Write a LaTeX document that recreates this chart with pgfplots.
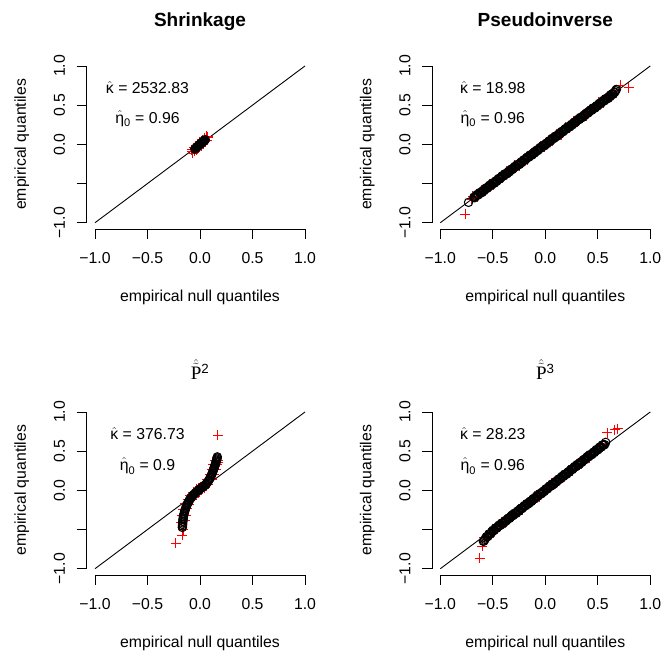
\documentclass[border=0pt]{standalone}
\usepackage{amsmath}
\usepackage{fontspec}
\setmainfont{Liberation Sans}
\newfontfamily\serifP{Liberation Serif}
\usepackage{pgfplots}
\pgfplotsset{compat=1.18}
\newcommand{\fs}{\fontsize{15.8}{18}\selectfont}
\tikzset{
 xt/.style={anchor=base, font=\fs, inner sep=0pt, yshift=-34.3pt},
 yt/.style={font=\fs, inner sep=0pt, xshift=-21.6pt, rotate=90, anchor=base},
}
\pgfplotsset{
 rpanel/.style={scale only axis, width=226.8pt, height=169.3pt, anchor=south west,
  xmin=-1.08,xmax=1.08,ymin=-1.08,ymax=1.08,
  axis x line*=bottom, axis y line*=left, axis line style={draw=none,-},
  xtick={-1,-0.5,0,0.5,1}, ytick={-1,-0.5,0,0.5,1},
  xticklabels={,,,,}, yticklabels={,,,,},
  tick align=outside, major tick length=10pt, tick style={black,line width=0.8pt},
  clip=false},
 circ/.style={color=black, only marks, mark=o, mark size=4.2pt, mark options={solid, line width=1.05pt, black}},
 rplus/.style={color=red, only marks, mark=+, mark size=5pt, mark options={solid, line width=1pt, red}},
 diag/.style={black, line width=0.9pt, no marks},
}
\newcommand{\raxes}{%
 \draw[line width=0.8pt] (axis cs:-1,-1.08) -- (axis cs:1,-1.08);
 \draw[line width=0.8pt] (axis cs:-1.08,-1) -- (axis cs:-1.08,1);
 \node[xt] at (axis cs:-1,-1.08) {−1.0};
 \node[xt] at (axis cs:-0.5,-1.08) {−0.5};
 \node[xt] at (axis cs:0,-1.08) {0.0};
 \node[xt] at (axis cs:0.5,-1.08) {0.5};
 \node[xt] at (axis cs:1,-1.08) {1.0};
 \node[yt] at (axis cs:-1.08,-1) {−1.0};
 \node[yt] at (axis cs:-1.08,0) {0.0};
 \node[yt] at (axis cs:-1.08,0.5) {0.5};
 \node[yt] at (axis cs:-1.08,1) {1.0};}
\begin{document}
\begin{tikzpicture}
\path[use as bounding box] (0,0) rectangle (665pt,655pt);

% ---------- Panel 1: Shrinkage ----------
\begin{axis}[rpanel, at={(86.6pt,426pt)}]
\raxes
\addplot[diag] coordinates {(-1,-1) (1,1)};
\addplot[rplus] coordinates {(-0.080,-0.066) (-0.070,-0.114) (-0.060,-0.042) (-0.050,-0.090) (-0.040,-0.018) (-0.030,-0.066) (-0.020,0.006) (-0.010,-0.042) (0.000,0.030) (0.010,-0.018) (0.020,0.054) (0.030,0.006) (0.040,0.078) (0.050,0.030) (0.060,0.102) (0.070,0.054) (0.075,0.100) (-0.075,-0.095) (0.072,0.085)};
\addplot[circ] coordinates {(-0.050,-0.060) (-0.045,-0.054) (-0.040,-0.049) (-0.035,-0.042) (-0.030,-0.036) (-0.025,-0.030) (-0.020,-0.024) (-0.015,-0.018) (-0.010,-0.012) (-0.005,-0.006) (0.000,0.000) (0.005,0.006) (0.010,0.012) (0.015,0.018) (0.020,0.024) (0.025,0.030) (0.030,0.036) (0.035,0.042) (0.040,0.049) (0.045,0.054) (0.050,0.060)};
\node[anchor=base, font=\fs] at (axis cs:-0.5,0.652) {$\hat{\text{κ}}$ = 2532.83};
\node[anchor=base, font=\fs] at (axis cs:-0.5,0.27) {$\hat{\text{η}}_{\text{0}}$ = 0.96};
\end{axis}

% ---------- Panel 2: Pseudoinverse ----------
\begin{axis}[rpanel, at={(431.9pt,426pt)}]
\raxes
\addplot[diag] coordinates {(-1,-1) (1,1)};
\addplot[rplus] coordinates {(-0.690,-0.665) (-0.650,-0.675) (-0.610,-0.585) (-0.570,-0.595) (-0.530,-0.505) (-0.490,-0.515) (-0.450,-0.425) (-0.410,-0.435) (-0.370,-0.345) (-0.330,-0.355) (-0.290,-0.265) (-0.250,-0.275) (-0.210,-0.185) (-0.170,-0.195) (-0.130,-0.105) (-0.090,-0.115) (-0.050,-0.025) (-0.010,-0.035) (0.030,0.055) (0.070,0.045) (0.110,0.135) (0.150,0.125) (0.190,0.215) (0.230,0.205) (0.270,0.295) (0.310,0.285) (0.350,0.375) (0.390,0.365) (0.430,0.455) (0.470,0.445) (0.510,0.535) (0.550,0.525) (0.590,0.615) (0.630,0.605) (0.660,0.690) (-0.763,-0.893) (-0.700,-0.700) (0.715,0.754) (0.794,0.725)};
\addplot[circ] coordinates {(-0.731,-0.740)
(-0.680,-0.674) (-0.665,-0.669) (-0.650,-0.641) (-0.635,-0.642) (-0.620,-0.618) (-0.605,-0.615) (-0.590,-0.585) (-0.575,-0.577) (-0.560,-0.554) (-0.545,-0.549)
(-0.530,-0.521) (-0.515,-0.522) (-0.500,-0.498) (-0.485,-0.495) (-0.470,-0.465) (-0.455,-0.457) (-0.440,-0.434) (-0.425,-0.429) (-0.410,-0.401) (-0.395,-0.402)
(-0.380,-0.378) (-0.365,-0.375) (-0.350,-0.345) (-0.335,-0.337) (-0.320,-0.314) (-0.305,-0.309) (-0.290,-0.281) (-0.275,-0.282) (-0.260,-0.258) (-0.245,-0.255)
(-0.230,-0.225) (-0.215,-0.217) (-0.200,-0.194) (-0.185,-0.189) (-0.170,-0.161) (-0.155,-0.162) (-0.140,-0.138) (-0.125,-0.135) (-0.110,-0.105) (-0.095,-0.097)
(-0.080,-0.074) (-0.065,-0.069) (-0.050,-0.041) (-0.035,-0.042) (-0.020,-0.018) (-0.005,-0.015) (0.010,0.015) (0.025,0.023) (0.040,0.046) (0.055,0.051)
(0.070,0.079) (0.085,0.078) (0.100,0.102) (0.115,0.105) (0.130,0.135) (0.145,0.143) (0.160,0.166) (0.175,0.171) (0.190,0.199) (0.205,0.198)
(0.220,0.222) (0.235,0.225) (0.250,0.255) (0.265,0.263) (0.280,0.286) (0.295,0.291) (0.310,0.319) (0.325,0.318) (0.340,0.342) (0.355,0.345)
(0.370,0.375) (0.385,0.383) (0.400,0.406) (0.415,0.411) (0.430,0.439) (0.445,0.438) (0.460,0.462) (0.475,0.465) (0.490,0.495) (0.505,0.503)
(0.520,0.526) (0.535,0.531) (0.550,0.559) (0.565,0.558) (0.580,0.582) (0.595,0.585) (0.610,0.615) (0.625,0.623) (0.640,0.646) (0.655,0.661) (0.670,0.684) (0.677,0.700)};
\addplot[circ] coordinates {(-0.6725,-0.6805) (-0.6575,-0.6535) (-0.6425,-0.6455) (-0.6275,-0.6175) (-0.6125,-0.6185) (-0.5975,-0.5965) (-0.5825,-0.5915) (-0.5675,-0.5605) (-0.5525,-0.5605) (-0.5375,-0.5335)
(-0.5225,-0.5255) (-0.5075,-0.4975) (-0.4925,-0.4985) (-0.4775,-0.4765) (-0.4625,-0.4715) (-0.4475,-0.4405) (-0.4325,-0.4405) (-0.4175,-0.4135) (-0.4025,-0.4055) (-0.3875,-0.3775)
(-0.3725,-0.3785) (-0.3575,-0.3565) (-0.3425,-0.3515) (-0.3275,-0.3205) (-0.3125,-0.3205) (-0.2975,-0.2935) (-0.2825,-0.2855) (-0.2675,-0.2575) (-0.2525,-0.2585) (-0.2375,-0.2365)
(-0.2225,-0.2315) (-0.2075,-0.2005) (-0.1925,-0.2005) (-0.1775,-0.1735) (-0.1625,-0.1655) (-0.1475,-0.1375) (-0.1325,-0.1385) (-0.1175,-0.1165) (-0.1025,-0.1115) (-0.0875,-0.0805)
(-0.0725,-0.0805) (-0.0575,-0.0535) (-0.0425,-0.0455) (-0.0275,-0.0175) (-0.0125,-0.0185) (0.0025,0.0035) (0.0175,0.0085) (0.0325,0.0395) (0.0475,0.0395) (0.0625,0.0665)
(0.0775,0.0745) (0.0925,0.1025) (0.1075,0.1015) (0.1225,0.1235) (0.1375,0.1285) (0.1525,0.1595) (0.1675,0.1595) (0.1825,0.1865) (0.1975,0.1945) (0.2125,0.2225)
(0.2275,0.2215) (0.2425,0.2435) (0.2575,0.2485) (0.2725,0.2795) (0.2875,0.2795) (0.3025,0.3065) (0.3175,0.3145) (0.3325,0.3425) (0.3475,0.3415) (0.3625,0.3635)
(0.3775,0.3685) (0.3925,0.3995) (0.4075,0.3995) (0.4225,0.4265) (0.4375,0.4345) (0.4525,0.4625) (0.4675,0.4615) (0.4825,0.4835) (0.4975,0.4885) (0.5125,0.5195)
(0.5275,0.5195) (0.5425,0.5465) (0.5575,0.5545) (0.5725,0.5825) (0.5875,0.5815) (0.6025,0.6035) (0.6175,0.6085) (0.6325,0.6395) (0.6475,0.6395) (0.6625,0.6665)};
\node[anchor=base, font=\fs] at (axis cs:-0.5,0.652) {$\hat{\text{κ}}$ = 18.98};
\node[anchor=base, font=\fs] at (axis cs:-0.5,0.27) {$\hat{\text{η}}_{\text{0}}$ = 0.96};
\end{axis}

% ---------- Panel 3: P^2 ----------
\begin{axis}[rpanel, at={(86.6pt,80pt)}]
\raxes
\addplot[diag] coordinates {(-1,-1) (1,1)};
\addplot[rplus] coordinates {(-0.180,-0.405) (-0.147,-0.385) (-0.173,-0.320) (-0.137,-0.315) (-0.159,-0.245) (-0.120,-0.235) (-0.141,-0.173) (-0.100,-0.175) (-0.118,-0.115) (-0.076,-0.120) (-0.094,-0.068) (-0.049,-0.075) (-0.063,-0.025) (-0.017,-0.035) (-0.031,0.015) (0.015,0.003) (0.001,0.049) (0.047,0.035) (0.033,0.082) (0.079,0.075) (0.065,0.135) (0.110,0.137) (0.091,0.200) (0.132,0.205) (0.112,0.272) (0.150,0.272) (0.127,0.330) (0.164,0.328) (0.140,0.387) (0.175,0.385) (-0.233,-0.677) (-0.168,-0.571) (-0.160,-0.500) (0.168,0.700) (0.175,0.360)};
\addplot[circ] coordinates {(-0.168,-0.473) (-0.167,-0.455) (-0.166,-0.435) (-0.165,-0.415) (-0.1635,-0.395) (-0.162,-0.375) (-0.160,-0.355) (-0.158,-0.335) (-0.1546,-0.315) (-0.151,-0.295) (-0.147,-0.275) (-0.143,-0.255) (-0.138,-0.235) (-0.1336,-0.215) (-0.128,-0.195)
(-0.126,-0.188) (-0.1205,-0.174) (-0.115,-0.160) (-0.109,-0.145) (-0.103,-0.130) (-0.097,-0.117) (-0.091,-0.105) (-0.085,-0.094) (-0.079,-0.083) (-0.0715,-0.071) (-0.064,-0.060) (-0.056,-0.050) (-0.048,-0.040) (-0.040,-0.030) (-0.032,-0.020) (-0.024,-0.010) (-0.016,0.000) (-0.008,0.009) (0.000,0.018) (0.008,0.026) (0.016,0.034) (0.024,0.042) (0.032,0.050) (0.040,0.058) (0.048,0.067) (0.056,0.078) (0.064,0.090) (0.072,0.105) (0.080,0.120) (0.0875,0.136) (0.095,0.152)
(0.100,0.168) (0.106,0.185) (0.1115,0.2025) (0.117,0.220) (0.122,0.238) (0.127,0.257) (0.131,0.272) (0.135,0.287) (0.1385,0.301) (0.142,0.315) (0.1455,0.329) (0.149,0.343) (0.152,0.3575) (0.155,0.372) (0.1575,0.386) (0.160,0.400) (0.1625,0.4135) (0.165,0.427)};
\node[anchor=base, font=\fs] at (axis cs:-0.5,0.648) {$\hat{\text{κ}}$ = 376.73};
\node[anchor=base, font=\fs] at (axis cs:-0.5,0.257) {$\hat{\text{η}}_{\text{0}}$ = 0.9};
\end{axis}

% ---------- Panel 4: P^3 ----------
\begin{axis}[rpanel, at={(431.9pt,80pt)}]
\raxes
\addplot[diag] coordinates {(-1,-1) (1,1)};
\addplot[rplus] coordinates {(-0.580,-0.605) (-0.540,-0.596) (-0.500,-0.490) (-0.460,-0.498) (-0.420,-0.407) (-0.380,-0.415) (-0.340,-0.324) (-0.300,-0.332) (-0.260,-0.240) (-0.220,-0.249) (-0.180,-0.157) (-0.140,-0.166) (-0.100,-0.074) (-0.060,-0.082) (-0.020,0.009) (0.020,0.001) (0.060,0.092) (0.100,0.084) (0.140,0.176) (0.180,0.167) (0.220,0.259) (0.260,0.250) (0.300,0.342) (0.340,0.334) (0.380,0.425) (0.420,0.417) (0.460,0.508) (0.500,0.500) (0.540,0.591) (-0.623,-0.868) (-0.600,-0.715) (0.590,0.735) (0.662,0.772) (0.690,0.785)};
\addplot[circ] coordinates {(-0.590,-0.650) (-0.575,-0.626) (-0.560,-0.591) (-0.545,-0.585) (-0.530,-0.555) (-0.515,-0.547) (-0.500,-0.510) (-0.485,-0.501) (-0.470,-0.478) (-0.455,-0.472)
(-0.440,-0.444) (-0.425,-0.444) (-0.410,-0.419) (-0.395,-0.416) (-0.380,-0.385) (-0.365,-0.377) (-0.350,-0.353) (-0.335,-0.347) (-0.320,-0.319) (-0.305,-0.319)
(-0.290,-0.295) (-0.275,-0.291) (-0.260,-0.260) (-0.245,-0.252) (-0.230,-0.228) (-0.215,-0.223) (-0.200,-0.194) (-0.185,-0.194) (-0.170,-0.170) (-0.155,-0.166)
(-0.140,-0.136) (-0.125,-0.127) (-0.110,-0.103) (-0.095,-0.098) (-0.080,-0.069) (-0.065,-0.070) (-0.050,-0.045) (-0.035,-0.041) (-0.020,-0.011) (-0.005,-0.002)
(0.010,0.021) (0.025,0.027) (0.040,0.056) (0.055,0.055) (0.070,0.080) (0.085,0.083) (0.100,0.114) (0.115,0.123) (0.130,0.146) (0.145,0.152)
(0.160,0.180) (0.175,0.180) (0.190,0.205) (0.205,0.208) (0.220,0.239) (0.235,0.247) (0.250,0.271) (0.265,0.277) (0.280,0.305) (0.295,0.305)
(0.310,0.329) (0.325,0.333) (0.340,0.364) (0.355,0.372) (0.370,0.396) (0.385,0.401) (0.400,0.430) (0.415,0.430) (0.430,0.454) (0.445,0.458)
(0.460,0.488) (0.475,0.497) (0.490,0.521) (0.505,0.526) (0.520,0.555) (0.535,0.554) (0.550,0.579) (0.565,0.583) (0.575,0.612)};
\addplot[circ] coordinates {(-0.5825,-0.645) (-0.5675,-0.607) (-0.5525,-0.592) (-0.5375,-0.557) (-0.5225,-0.552) (-0.5075,-0.525) (-0.4925,-0.516) (-0.4775,-0.485) (-0.4625,-0.484) (-0.4475,-0.456)
(-0.4325,-0.448) (-0.4175,-0.419) (-0.4025,-0.420) (-0.3875,-0.397) (-0.3725,-0.391) (-0.3575,-0.360) (-0.3425,-0.359) (-0.3275,-0.332) (-0.3125,-0.323) (-0.2975,-0.294)
(-0.2825,-0.295) (-0.2675,-0.272) (-0.2525,-0.267) (-0.2375,-0.235) (-0.2225,-0.234) (-0.2075,-0.207) (-0.1925,-0.198) (-0.1775,-0.170) (-0.1625,-0.170) (-0.1475,-0.147)
(-0.1325,-0.142) (-0.1175,-0.110) (-0.1025,-0.110) (-0.0875,-0.082) (-0.0725,-0.073) (-0.0575,-0.045) (-0.0425,-0.045) (-0.0275,-0.023) (-0.0125,-0.017) (0.0025,0.015)
(0.0175,0.015) (0.0325,0.043) (0.0475,0.051) (0.0625,0.080) (0.0775,0.080) (0.0925,0.102) (0.1075,0.108) (0.1225,0.139) (0.1375,0.140) (0.1525,0.168)
(0.1675,0.176) (0.1825,0.205) (0.1975,0.204) (0.2125,0.227) (0.2275,0.233) (0.2425,0.264) (0.2575,0.265) (0.2725,0.292) (0.2875,0.301) (0.3025,0.330)
(0.3175,0.329) (0.3325,0.352) (0.3475,0.357) (0.3625,0.389) (0.3775,0.390) (0.3925,0.417) (0.4075,0.426) (0.4225,0.454) (0.4375,0.454) (0.4525,0.477)
(0.4675,0.482) (0.4825,0.514) (0.4975,0.514) (0.5125,0.542) (0.5275,0.551) (0.5425,0.579) (0.5575,0.579)};
\node[anchor=base, font=\fs] at (axis cs:-0.5,0.648) {$\hat{\text{κ}}$ = 28.23};
\node[anchor=base, font=\fs] at (axis cs:-0.5,0.257) {$\hat{\text{η}}_{\text{0}}$ = 0.96};
\end{axis}

% ---------- titles and axis labels ----------
\node[anchor=base, font=\fontsize{19}{22}\selectfont\bfseries] at (200pt,628.3pt) {Shrinkage};
\node[anchor=base, font=\fontsize{19}{22}\selectfont\bfseries] at (545.3pt,628.3pt) {Pseudoinverse};
\node[anchor=base, font=\fontsize{19}{22}\selectfont] at (200pt,275pt) {$\hat{\tilde{\text{\serifP P}}}^{\text{2}}$};
\node[anchor=base, font=\fontsize{19}{22}\selectfont] at (545.3pt,275pt) {$\hat{\tilde{\text{\serifP P}}}^{\text{3}}$};

\node[anchor=base, font=\fs] at (200pt,353pt) {empirical null quantiles};
\node[anchor=base, font=\fs] at (545.3pt,353pt) {empirical null quantiles};
\node[anchor=base, font=\fs] at (200pt,7.3pt) {empirical null quantiles};
\node[anchor=base, font=\fs] at (545.3pt,7.3pt) {empirical null quantiles};

\node[rotate=90, anchor=base, font=\fs] at (26pt,510.6pt) {empirical quantiles};
\node[rotate=90, anchor=base, font=\fs] at (371.3pt,510.6pt) {empirical quantiles};
\node[rotate=90, anchor=base, font=\fs] at (26pt,164.8pt) {empirical quantiles};
\node[rotate=90, anchor=base, font=\fs] at (371.3pt,164.8pt) {empirical quantiles};
\end{tikzpicture}
\end{document}
